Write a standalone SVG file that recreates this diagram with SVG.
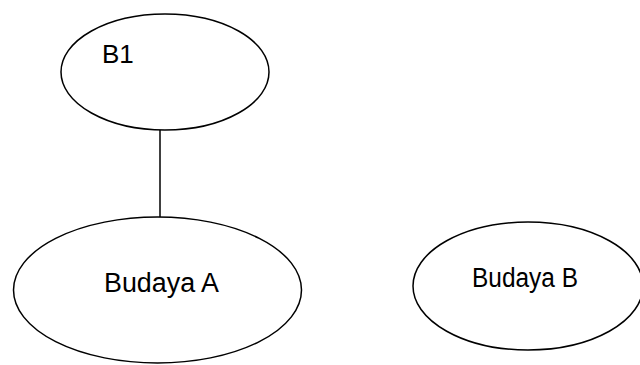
<svg xmlns="http://www.w3.org/2000/svg" width="640" height="365" viewBox="0 0 640 365">
<style>
.node{fill:#ffffff;stroke:#000000;stroke-width:1.5}
.lbl{font-family:"Liberation Sans",Arial,sans-serif;font-size:26px;fill:#000000}
.big{font-size:27px}
.edge{stroke:#000000;stroke-width:1.5;fill:none}
</style>
<rect width="640" height="365" fill="#ffffff"/>
<g id="connectors">
<line class="edge" x1="160" y1="130" x2="160" y2="217"/>
</g>
<g id="node-b1">
<ellipse class="node" cx="165" cy="72" rx="104" ry="58"/>
<text class="lbl" x="102" y="63">B1</text>
</g>
<g id="node-budaya-a">
<ellipse class="node" cx="157.5" cy="290" rx="144" ry="73"/>
<text class="lbl big" x="104" y="292" textLength="115" lengthAdjust="spacingAndGlyphs">Budaya A</text>
</g>
<g id="node-budaya-b">
<ellipse class="node" cx="528" cy="286" rx="115" ry="64"/>
<text class="lbl big" x="472" y="287" textLength="106" lengthAdjust="spacingAndGlyphs">Budaya B</text>
</g>
</svg>
